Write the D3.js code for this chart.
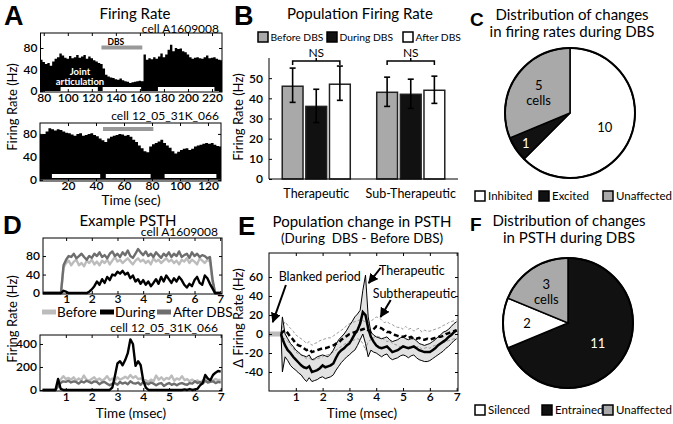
<!DOCTYPE html>
<html><head><meta charset="utf-8">
<script src="https://cdn.jsdelivr.net/npm/d3@7"></script>
<style>
body{margin:0;background:#fff;}
svg{display:block;}
</style></head><body>
<svg id="c" width="673" height="424"></svg>
<script>
// ---------------- DATA ----------------
// Panel A (top) : cell A1609008, firing-rate histogram (time in sec, rate in Hz)
const aTopTime = [77,79,81,83,85,87,89,91,93,95,97,99,101,103,105,107,109,111,113,115,117,119,121,123,125,127,129,131,133,135,137,139,141,143,145,147,149,151,153,155,157,159,161,163,165,167,169,171,173,175,177,179,181,183,185,187,189,191,193,195,197,199,201,203,205,207,209,211,213,215,217,219,221,223,225,227];
const aTopRate = [58,54,50,52,47,55,60,63,70,66,62,60,65,61,63,67,62,64,67,60,64,61,57,55,52,50,42,30,27,25,24,22,21,23,20,18,17,15,16,17,18,19,18,68,58,61,59,63,60,64,70,63,68,77,86,74,80,78,79,74,72,68,63,60,62,63,61,60,63,66,61,62,63,60,58,57];
const aTopDBS = [128,162];
const aTopJoint = [[94,125],[129,161],[175,222]];
// Panel A (bottom) : cell 12_05_31K_066
const aBotTime = [0,2,4,6,8,10,12,14,16,18,20,22,24,26,28,30,32,34,36,38,40,42,44,46,48,50,52,54,56,58,60,62,64,66,68,70,72,74,76,78,80,82,84,86,88,90,92,94,96,98,100,102,104,106,108,110,112,114,116,118,120,122,124,126,128];
const aBotRate = [78,80,84,90,88,86,88,87,84,82,81,79,77,80,81,77,78,80,81,78,76,72,69,66,72,75,77,78,80,79,77,78,75,70,66,60,55,50,48,58,62,64,67,70,64,60,56,50,46,49,52,54,55,52,54,58,60,61,63,64,63,64,61,59,58];
const aBotDBS = [45,81];
const aBotJoint = [[8.5,43],[47,79],[89,126]];
const aTopXTicks = [80,100,120,140,160,180,200,220];
const aBotXTicks = [20,40,60,80,100,120];
const aYTicks = [0,40,80];

// Panel B : population firing rate
const bCategories = ["Therapeutic","Sub-Therapeutic"];
const bSeries = ["Before DBS","During DBS","After DBS"];
const bMeans = [[46,36,47],[43,42,44]];
const bErrLow = [[38,28,39],[36,35,37.5]];
const bErrHigh = [[55,44.5,56],[50.5,49.5,51]];
const bYTicks = [0,10,20,30,40,50];

// Panel C : distribution of firing rate changes
const cLabels = ["Inhibited","Excited","Unaffected"];
const cCounts = [10,1,5];

// Panel D : example PSTH (time in msec)
const dTime = [0.1,0.2,0.3,0.4,0.5,0.6,0.7,0.8,0.9,1.0,1.1,1.2,1.3,1.4,1.5,1.6,1.7,1.8,1.9,2.0,2.1,2.2,2.3,2.4,2.5,2.6,2.7,2.8,2.9,3.0,3.1,3.2,3.3,3.4,3.5,3.6,3.7,3.8,3.9,4.0,4.1,4.2,4.3,4.4,4.5,4.6,4.7,4.8,4.9,5.0,5.1,5.2,5.3,5.4,5.5,5.6,5.7,5.8,5.9,6.0,6.1,6.2,6.3,6.4,6.5,6.6,6.7,6.8,6.9,7.0];
const dTopBefore = [0,0,0,0,0,0,0,0,55,65,70,60,68,72,60,65,58,70,65,72,62,68,60,70,65,72,62,70,78,68,72,65,70,75,68,62,70,75,68,72,65,70,62,75,68,72,65,70,75,68,72,65,70,62,72,68,75,65,72,68,62,75,70,65,72,68,25,0,0,0];
const dTopDuring = [0,0,0,0,0,0,0,0,5,3,0,0,0,0,0,0,0,0,3,8,15,25,18,30,22,35,28,40,38,46,42,48,40,44,32,38,25,30,20,28,18,25,15,22,30,20,35,25,38,30,22,32,25,35,28,18,12,20,15,28,35,22,18,38,32,20,10,0,0,0];
const dTopAfter = [0,0,0,0,0,0,0,0,60,72,80,78,85,75,80,85,78,72,80,76,85,80,88,78,82,75,85,90,80,85,78,88,82,92,80,76,85,95,88,82,90,80,85,78,88,82,76,85,80,88,78,85,80,90,78,82,85,76,88,80,85,78,82,80,75,78,30,0,0,0];
const dBotBefore = [0,0,0,0,0,0,60,90,120,95,105,90,110,80,100,85,125,90,80,95,110,85,100,80,95,120,85,100,80,110,90,100,115,100,130,105,120,95,100,80,85,70,90,75,125,90,110,85,105,95,125,80,100,90,120,85,95,75,90,70,85,60,80,100,70,90,80,95,85,90];
const dBotDuring = [0,0,0,0,0,0,95,10,0,0,0,0,0,0,0,0,0,0,0,0,0,0,0,0,0,0,0,20,120,230,250,215,260,320,440,400,210,250,215,80,20,0,0,0,0,0,0,0,0,0,0,0,0,0,0,5,0,8,0,5,10,40,60,130,100,85,130,150,165,160];
const dBotAfter = [0,0,0,0,0,0,30,60,75,70,80,65,75,70,55,75,65,80,70,60,75,70,50,65,70,55,40,55,60,45,70,55,65,50,75,60,55,65,45,70,60,50,65,55,40,55,60,35,50,60,45,55,40,55,60,50,45,60,55,75,60,70,55,80,65,70,75,60,70,65];
const dXTicks = [1,2,3,4,5,6,7];
const dTopYTicks = [0,40,80];
const dBotYTicks = [0,200,400];

// Panel E : population change in PSTH (During - Before), Hz
const eTime = [0.45,0.5,0.6,0.7,0.8,0.9,1.0,1.1,1.2,1.3,1.4,1.5,1.6,1.7,1.8,1.9,2.0,2.1,2.2,2.3,2.4,2.5,2.6,2.7,2.8,2.9,3.0,3.1,3.2,3.3,3.4,3.5,3.6,3.7,3.8,3.9,4.0,4.1,4.2,4.3,4.4,4.5,4.6,4.7,4.8,4.9,5.0,5.1,5.2,5.3,5.4,5.5,5.6,5.7,5.8,5.9,6.0,6.1,6.2,6.3,6.4,6.5,6.6,6.7,6.8,6.9,7.0];
const eTherMean = [0,-5,-12,-17,-20,-24,-27,-30,-33,-35,-36,-34,-40,-39,-38,-36,-33,-35,-34,-33,-31,-25,-20,-17,-15,-12,-10,-5,0,4,11,23,20,6,-3,-8,-12,-14,-15,-14,-13,-16,-19,-18,-17,-15,-13,-14,-15,-14,-13,-15,-17,-18,-19,-19,-19,-17,-15,-12,-10,-8,-6,-3,-1,2,4];
const eTherUpper = [0,18,0,-5,-10,-13,-17,-19,-22,-23,-24,-22,-27,-26,-24,-23,-22,-23,-24,-21,-17,-11,-6,-3,0,4,9,13,18,21,25,46,62,18,2,-1,-3,-4,-5,-4,-3,-6,-8,-7,-6,-4,-3,-5,-6,-5,-5,-7,-10,-11,-12,-11,-10,-8,-6,-3,-1,2,3,5,8,11,13];
const eTherLower = [0,-40,-24,-28,-33,-36,-38,-41,-43,-47,-50,-46,-50,-49,-48,-46,-45,-47,-46,-45,-43,-38,-34,-30,-27,-24,-22,-19,-17,-12,-6,0,-10,-24,-17,-19,-20,-22,-24,-22,-21,-25,-27,-26,-25,-23,-22,-23,-25,-23,-22,-25,-27,-28,-29,-29,-28,-26,-24,-22,-20,-18,-15,-13,-10,-7,-5];
const eSubMean = [0,2,4,1,-3,-6,-10,-12,-13,-15,-17,-16,-19,-18,-17,-16,-15,-15,-14,-13,-12,-10,-9,-6,-4,-2,0,1,2,3,4,5,6,4,2,5,8,7,6,4,2,2,0,-1,-2,-3,-3,-2,-4,-3,-5,-5,-4,-6,-6,-5,-6,-5,-4,-3,-3,-2,0,1,2,3,4];
const eSubUpper = [0,8,13,9,6,3,-1,-3,-5,-7,-10,-8,-12,-10,-9,-7,-6,-5,-4,-4,-2,0,2,4,6,9,11,12,13,14,15,14,13,12,13,16,18,17,15,12,13,11,10,8,7,7,5,8,5,6,3,5,6,2,4,3,3,4,5,6,7,9,10,12,13,14,15];
const eSubLower = [0,-5,-5,-8,-12,-15,-19,-21,-22,-24,-26,-25,-28,-27,-26,-25,-24,-22,-22,-20,-19,-17,-15,-13,-11,-9,-8,-7,-6,-5,-6,-10,-17,-8,-6,-4,-2,-3,-4,-6,-8,-7,-10,-11,-12,-14,-12,-13,-14,-12,-15,-14,-13,-16,-15,-14,-15,-13,-12,-11,-10,-9,-8,-7,-6,-5,-4];
const eBlanked = [0,0.45];
const eXTicks = [1,2,3,4,5,6,7];
const eYTicks = [-40,-20,0,20,40,60];

// Panel F : distribution of PSTH changes
const fLabels = ["Entrained","Silenced","Unaffected"];
const fCounts = [11,2,3];

// ---------------- DRAWING ----------------
const FONT = "Lato, 'Open Sans', sans-serif";
const svg = d3.select("#c");
const GRAY = "#a9a9a9", BLACK = "#111";

function txt(x, y, s, o = {}) {
  return svg.append("text").attr("x", x).attr("y", y).text(s)
    .attr("font-size", o.size || 13).attr("text-anchor", o.anchor || "start")
    .attr("font-weight", o.weight || "normal").attr("fill", o.fill || "#000")
    .attr("font-family", o.family || FONT).style("white-space", "pre");
}
function vtxt(x, y, s, size) {
  return svg.append("text").attr("transform", `translate(${x},${y}) rotate(-90)`)
    .attr("text-anchor", "middle").attr("font-size", size).attr("font-family", FONT).text(s);
}
function letter(x, y, s, size) {
  txt(x, y, s, {size: size, weight: "bold", family: "'Liberation Sans', Arial, sans-serif"});
}
function styleAxis(a) {
  a.select(".domain").remove();
  a.selectAll(".tick line").attr("stroke", "#000");
  a.selectAll(".tick text").attr("font-size", 12).attr("font-family", FONT)
    .attr("font-weight", 600).attr("fill", "#000");
}
function boxAxes(xs, ys, xt, yt, o = {}) {
  const [xa, xb] = xs.range(), [ya, yb] = ys.range();
  const g = svg.append("g");
  const fmt = d => String(d);
  g.append("g").attr("transform", `translate(0,${ya})`)
    .call(d3.axisBottom(xs).tickValues(xt).tickSize(-3).tickPadding(o.xpad ?? 1).tickFormat(fmt)).call(styleAxis);
  g.append("g").attr("transform", `translate(0,${yb})`)
    .call(d3.axisTop(xs).tickValues(xt).tickSize(-3).tickFormat("")).call(styleAxis);
  g.append("g").attr("transform", `translate(${xa},0)`)
    .call(d3.axisLeft(ys).tickValues(yt).tickSize(-3).tickPadding(o.ypad ?? 3).tickFormat(fmt)).call(styleAxis);
  g.append("g").attr("transform", `translate(${xb},0)`)
    .call(d3.axisRight(ys).tickValues(yt).tickSize(-3).tickFormat("")).call(styleAxis);
  g.append("rect").attr("x", xa).attr("y", yb).attr("width", xb - xa).attr("height", ya - yb)
    .attr("fill", "none").attr("stroke", "#000").attr("stroke-width", 1);
}
function clip(id, xs, ys) {
  const [xa, xb] = xs.range(), [ya, yb] = ys.range();
  svg.append("clipPath").attr("id", id).append("rect")
    .attr("x", xa).attr("y", yb).attr("width", xb - xa).attr("height", ya - yb);
  return `url(#${id})`;
}

// ===== Panel A =====
letter(4, 25, "A", 27);
txt(135, 19, "Firing Rate", {size: 15, anchor: "middle"});
txt(219, 33, "cell A1609008", {size: 12, anchor: "end"});
function histPanel(times, rates, xs, ys, dbs, joints, dbsLevel, jointLevel, id, bin) {
  const data = times.map((t, i) => [t, rates[i]]);
  data.push([times[times.length - 1] + bin, rates[rates.length - 1]]);
  svg.append("path").datum(data).attr("clip-path", clip(id, xs, ys))
    .attr("fill", "#000")
    .attr("d", d3.area().curve(d3.curveStepAfter).x(d => xs(d[0])).y0(ys(0)).y1(d => ys(d[1])));
  svg.append("line").attr("x1", xs(dbs[0])).attr("x2", xs(dbs[1]))
    .attr("y1", ys(dbsLevel)).attr("y2", ys(dbsLevel)).attr("stroke", "#999").attr("stroke-width", 4);
  joints.forEach(j => svg.append("line").attr("x1", xs(j[0])).attr("x2", xs(j[1]))
    .attr("y1", ys(jointLevel)).attr("y2", ys(jointLevel)).attr("stroke", "#fff").attr("stroke-width", 4));
}
const axTop = d3.scaleLinear().domain([77.3, 228.3]).range([40.5, 222]);
const ayTop = d3.scaleLinear().domain([-2, 108]).range([92, 33]);
histPanel(aTopTime, aTopRate, axTop, ayTop, aTopDBS, aTopJoint, 81, 3.5, "clipA1", 2);
txt(axTop(140), 45, "DBS", {size: 8.5, weight: "bold", anchor: "middle"});
txt(80, 75, "Joint", {size: 9.5, weight: "bold", anchor: "middle", fill: "#fff"});
txt(80, 85, "articulation", {size: 9.5, weight: "bold", anchor: "middle", fill: "#fff"});
boxAxes(axTop, ayTop, aTopXTicks, aYTicks, {xpad: 1, ypad: 3});

txt(219, 120, "cell 12_05_31K_066", {size: 12, anchor: "end"});
const axBot = d3.scaleLinear().domain([0, 129.3]).range([40, 221]);
const ayBot = d3.scaleLinear().domain([-2, 99]).range([181, 123]);
histPanel(aBotTime, aBotRate, axBot, ayBot, aBotDBS, aBotJoint, 88.5, 6.5, "clipA2", 2);
boxAxes(axBot, ayBot, aBotXTicks, aYTicks, {xpad: 0, ypad: 3});
txt(131, 205, "Time (sec)", {size: 13.5, anchor: "middle"});
vtxt(17, 107, "Firing Rate (Hz)", 13);

// ===== Panel B =====
letter(234, 25, "B", 27);
txt(360, 19, "Population Firing Rate", {size: 15, anchor: "middle"});
const bColors = [GRAY, BLACK, "#fff"];
const bLegX = [258, 327, 403];
bSeries.forEach((s, i) => {
  svg.append("rect").attr("x", bLegX[i]).attr("y", 32).attr("width", 10).attr("height", 10)
    .attr("fill", bColors[i]).attr("stroke", "#000").attr("stroke-width", 1.5);
  txt(bLegX[i] + 12.5, 41, s, {size: 10.3});
});
const bx = d3.scaleBand().domain(bCategories).range([269, 458]).paddingInner(0.28).paddingOuter(0.14);
const bxi = d3.scaleBand().domain(bSeries).range([0, bx.bandwidth()]).paddingInner(0.12);
const by = d3.scaleLinear().domain([0, 60]).range([179, 58]);
bCategories.forEach((c, ci) => {
  bSeries.forEach((s, si) => {
    const x = bx(c) + bxi(s);
    svg.append("rect").attr("x", x).attr("y", by(bMeans[ci][si])).attr("width", bxi.bandwidth())
      .attr("height", by(0) - by(bMeans[ci][si])).attr("fill", bColors[si])
      .attr("stroke", "#222").attr("stroke-width", 1.5);
  });
  bSeries.forEach((s, si) => {
    const cx = bx(c) + bxi(s) + bxi.bandwidth() / 2;
    const g = svg.append("g").attr("stroke", "#000").attr("stroke-width", 1.6);
    g.append("line").attr("x1", cx).attr("x2", cx).attr("y1", by(bErrLow[ci][si])).attr("y2", by(bErrHigh[ci][si]));
    g.append("line").attr("x1", cx - 3).attr("x2", cx + 3).attr("y1", by(bErrLow[ci][si])).attr("y2", by(bErrLow[ci][si]));
    g.append("line").attr("x1", cx - 3).attr("x2", cx + 3).attr("y1", by(bErrHigh[ci][si])).attr("y2", by(bErrHigh[ci][si]));
  });
  // NS bracket
  const x1 = bx(c) + bxi(bSeries[0]) + bxi.bandwidth() / 2;
  const x2 = bx(c) + bxi(bSeries[2]) + bxi.bandwidth() / 2;
  const xm = (x1 + x2) / 2, yb = 61;
  svg.append("path").attr("d", `M${x1},${yb + 4}V${yb}H${x2}V${yb + 4}M${xm},${yb}V${yb - 3}`)
    .attr("fill", "none").attr("stroke", "#000").attr("stroke-width", 1.5);
  txt(xm, 57, "NS", {size: 12, anchor: "middle"});
  txt(bx(c) + bx.bandwidth() / 2, 198, c, {size: 12.5, anchor: "middle"});
});
svg.append("g").attr("transform", "translate(269,0)")
  .call(d3.axisLeft(by).tickValues(bYTicks).tickSize(-3).tickPadding(6)).call(styleAxis);
svg.append("path").attr("d", `M269,${by(60)}V${by(0)}H458`).attr("fill", "none").attr("stroke", "#000");
vtxt(243, 117, "Firing Rate (Hz)", 13);

// ===== Pies =====
function pie(cx, cy, r, labels, counts, colors, labelCfg, legendY, legX) {
  const arcs = d3.pie().sort(null).value(d => d)(counts);
  const g = svg.append("g").attr("transform", `translate(${cx},${cy})`);
  g.selectAll("path").data(arcs).join("path")
    .attr("d", d3.arc().innerRadius(0).outerRadius(r))
    .attr("fill", (d, i) => colors[i]).attr("stroke", "#000").attr("stroke-width", 1.5);
  g.append("circle").attr("r", r).attr("fill", "none").attr("stroke", "#000").attr("stroke-width", 2);
  arcs.forEach((a, i) => {
    const lr = r * labelCfg[i].f;
    const [lx, ly] = d3.arc().innerRadius(lr).outerRadius(lr).centroid(a);
    const fill = colors[i] === BLACK ? "#fff" : "#000";
    if (labelCfg[i].cells) {
      txt(cx + lx, cy + ly - 2, counts[i], {size: 13, anchor: "middle", fill});
      txt(cx + lx, cy + ly + 13, "cells", {size: 13, anchor: "middle", fill});
    } else {
      txt(cx + lx, cy + ly + 5, counts[i], {size: 13, anchor: "middle", fill});
    }
  });
  labels.forEach((l, i) => {
    svg.append("rect").attr("x", legX[i]).attr("y", legendY - 5).attr("width", 10).attr("height", 10)
      .attr("fill", colors[i]).attr("stroke", "#000").attr("stroke-width", 1.5);
    txt(legX[i] + 13, legendY + 4, l, {size: 11.5});
  });
}
letter(470, 26, "C", 19);
txt(572, 20, "Distribution of changes", {size: 15, anchor: "middle"});
txt(572, 37, "in firing rates during DBS", {size: 15, anchor: "middle"});
pie(570, 113, 65, cLabels, cCounts, ["#fff", BLACK, GRAY],
  [{f: 0.58}, {f: 0.82}, {f: 0.58, cells: true}], 196, [475, 539, 603]);

letter(470, 231, "F", 19);
txt(569, 226, "Distribution of changes", {size: 15, anchor: "middle"});
txt(569, 243, "in PSTH during DBS", {size: 15, anchor: "middle"});
pie(568, 323, 65, fLabels, fCounts, [BLACK, "#fff", GRAY],
  [{f: 0.55}, {f: 0.63}, {f: 0.6, cells: true}], 410, [542, 475, 603]);

// ===== Panel D =====
letter(3, 234, "D", 26);
txt(128, 226, "Example PSTH", {size: 15, anchor: "middle"});
txt(218, 236, "cell A1609008", {size: 12, anchor: "end"});
const dColors = {before: "#bcbcbc", during: "#000", after: "#6e6e6e"};
function psth(xs, ys, series) {
  series.forEach(([vals, col]) => {
    svg.append("path").datum(dTime.map((t, i) => [t, vals[i]]))
      .attr("fill", "none").attr("stroke", col).attr("stroke-width", 2.4).attr("stroke-linejoin", "round")
      .attr("d", d3.line().x(d => xs(d[0])).y(d => ys(d[1])));
  });
}
const dxTop = d3.scaleLinear().domain([0.1, 7.07]).range([43, 222]);
const dyTop = d3.scaleLinear().domain([-2, 119]).range([294, 238]);
psth(dxTop, dyTop, [[dTopBefore, dColors.before], [dTopAfter, dColors.after], [dTopDuring, dColors.during]]);
boxAxes(dxTop, dyTop, dXTicks, dTopYTicks, {xpad: 0, ypad: 3});
// legend
[["Before", dColors.before, 42, 57], ["During", dColors.during, 100, 115], ["After DBS", dColors.after, 157, 173]].forEach(([l, c, x0, tx]) => {
  svg.append("line").attr("x1", x0).attr("x2", x0 + 14).attr("y1", 312).attr("y2", 312)
    .attr("stroke", c).attr("stroke-width", 5);
  txt(tx, 317, l, {size: 13.5});
});
txt(218, 332, "cell 12_05_31K_066", {size: 12, anchor: "end"});
const dxBot = d3.scaleLinear().domain([0, 7.05]).range([40, 222]);
const dyBot = d3.scaleLinear().domain([-9, 478]).range([391, 335]);
psth(dxBot, dyBot, [[dBotBefore, dColors.before], [dBotAfter, dColors.after], [dBotDuring, dColors.during]]);
boxAxes(dxBot, dyBot, dXTicks, dBotYTicks, {xpad: 1, ypad: 3});
txt(131, 418, "Time (msec)", {size: 13.5, anchor: "middle"});
vtxt(17, 319, "Firing Rate (Hz)", 13);

// ===== Panel E =====
letter(238, 235, "E", 26);
txt(362, 227, "Population change in PSTH", {size: 15, anchor: "middle"});
txt(362, 243, "(During  DBS - Before DBS)", {size: 13.5, anchor: "middle"});
const ex = d3.scaleLinear().domain([0, 7.05]).range([269, 458]);
const ey = d3.scaleLinear().domain([-60, 85.3]).range([391, 253]);
const eRows = eTime.map((t, i) => ({t, tm: eTherMean[i], tu: eTherUpper[i], tl: eTherLower[i], sm: eSubMean[i], su: eSubUpper[i], sl: eSubLower[i]}));
svg.append("path").datum(eRows).attr("fill", "#e2e2e2")
  .attr("d", d3.area().x(d => ex(d.t)).y0(d => ey(d.tl)).y1(d => ey(d.tu)));
const eline = key => d3.line().x(d => ex(d.t)).y(d => ey(d[key]));
svg.append("line").attr("x1", ex(eBlanked[0])).attr("x2", ex(eBlanked[1])).attr("y1", ey(0)).attr("y2", ey(0))
  .attr("stroke", "#bbb").attr("stroke-width", 5);
["su", "sl"].forEach(k => svg.append("path").datum(eRows).attr("fill", "none").attr("stroke", "#9a9a9a")
  .attr("stroke-width", 1).attr("stroke-dasharray", "3,2").attr("d", eline(k)));
["tu", "tl"].forEach(k => svg.append("path").datum(eRows).attr("fill", "none").attr("stroke", "#000")
  .attr("stroke-width", 1).attr("d", eline(k)));
svg.append("path").datum(eRows).attr("fill", "none").attr("stroke", "#000").attr("stroke-width", 2.5)
  .attr("stroke-dasharray", "5,3").attr("d", eline("sm"));
svg.append("path").datum(eRows).attr("fill", "none").attr("stroke", "#000").attr("stroke-width", 2.5)
  .attr("d", eline("tm"));
boxAxes(ex, ey, eXTicks, eYTicks, {xpad: 1, ypad: 6});
// annotations
svg.append("defs").append("marker").attr("id", "arr").attr("viewBox", "0 0 10 10").attr("refX", 9).attr("refY", 5)
  .attr("markerWidth", 5).attr("markerHeight", 5).attr("orient", "auto")
  .append("path").attr("d", "M0,0L10,5L0,10z").attr("fill", "#000");
const annots = [
  {text: "Blanked period", tx: 0.36, ty: 55.8, from: [0.63, 51.6], to: [0.14, 12.6]},
  {text: "Therapeutic", tx: 4.1, ty: 62, from: [4.16, 69.5], to: [3.72, 53.7]},
  {text: "Subtherapeutic", tx: 3.87, ty: 38, from: [4.54, 35.8], to: [4.16, 17.9]}
];
annots.forEach(a => {
  txt(ex(a.tx), ey(a.ty), a.text, {size: 12.5});
  svg.append("line").attr("x1", ex(a.from[0])).attr("y1", ey(a.from[1])).attr("x2", ex(a.to[0])).attr("y2", ey(a.to[1]))
    .attr("stroke", "#000").attr("stroke-width", 2).attr("marker-end", "url(#arr)");
});
txt(362, 418, "Time (msec)", {size: 13.5, anchor: "middle"});
vtxt(243, 318, "Δ Firing Rate (Hz)", 13);
</script>
</body></html>
